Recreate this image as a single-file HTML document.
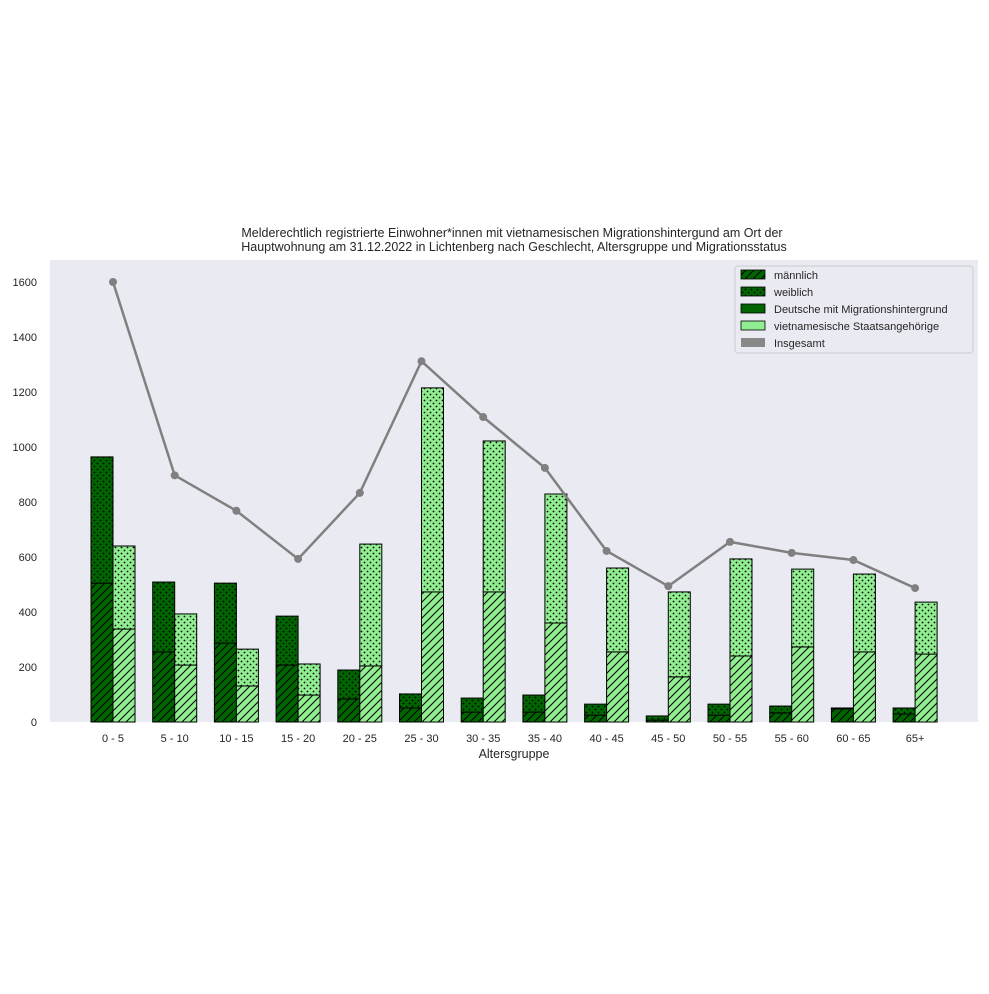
<!DOCTYPE html>
<html><head><meta charset="utf-8"><style>
body{margin:0;background:#fff;}
svg text{font-family:"Liberation Sans",sans-serif;fill:#262626;}
</style></head><body>
<svg id="chart" width="989" height="989" xmlns="http://www.w3.org/2000/svg">
<defs>
<pattern id="hd" patternUnits="userSpaceOnUse" width="8" height="8"><rect width="8" height="8" fill="#006400"/><path d="M-2,2 L2,-2 M0,8 L8,0 M6,10 L10,6" stroke="#000" stroke-width="1"/></pattern>
<pattern id="hl" patternUnits="userSpaceOnUse" width="8" height="8"><rect width="8" height="8" fill="#90ee90"/><path d="M-2,2 L2,-2 M0,8 L8,0 M6,10 L10,6" stroke="#000" stroke-width="1"/></pattern>
<pattern id="dd" patternUnits="userSpaceOnUse" width="6" height="6"><rect width="6" height="6" fill="#006400"/><circle cx="1.5" cy="1.5" r="0.9" fill="#000"/><circle cx="4.5" cy="4.5" r="0.9" fill="#000"/></pattern>
<pattern id="dl" patternUnits="userSpaceOnUse" width="6" height="6"><rect width="6" height="6" fill="#90ee90"/><circle cx="1.5" cy="1.5" r="0.9" fill="#000"/><circle cx="4.5" cy="4.5" r="0.9" fill="#000"/></pattern>
</defs>
<rect x="50" y="260" width="928" height="462" fill="#eaeaf2"/>
<text x="512" y="237" font-size="12.5" text-anchor="middle">Melderechtlich registrierte Einwohner*innen mit vietnamesischen Migrationshintergund am Ort der</text>
<text x="514" y="251" font-size="12.5" text-anchor="middle">Hauptwohnung am 31.12.2022 in Lichtenberg nach Geschlecht, Altersgruppe und Migrationsstatus</text>
<g id="marks"></g>
<g id="axes"></g>
<text x="514" y="758" font-size="12.5" text-anchor="middle">Altersgruppe</text>
<g>
<rect x="735" y="266" width="238" height="87" rx="3" fill="#eaeaf2" stroke="#cccccc" stroke-width="1"/>
<rect x="741" y="270" width="24" height="9" fill="url(#hd)" stroke="#000" stroke-width="0.8"/>
<text x="774" y="279" font-size="11">männlich</text>
<rect x="741" y="287" width="24" height="9" fill="url(#dd)" stroke="#000" stroke-width="0.8"/>
<text x="774" y="296" font-size="11">weiblich</text>
<rect x="741" y="304" width="24" height="9" fill="#006400" stroke="#000" stroke-width="0.8"/>
<text x="774" y="313" font-size="11">Deutsche mit Migrationshintergrund</text>
<rect x="741" y="321" width="24" height="9" fill="#90ee90" stroke="#000" stroke-width="0.8"/>
<text x="774" y="330" font-size="11">vietnamesische Staatsangehörige</text>
<rect x="741" y="338" width="24" height="9" fill="#888888"/>
<text x="774" y="347" font-size="11">Insgesamt</text>
</g>
</svg>
<script>
const categories = ["0 - 5","5 - 10","10 - 15","15 - 20","20 - 25","25 - 30","30 - 35","35 - 40","40 - 45","45 - 50","50 - 55","55 - 60","60 - 65","65+"];
const deMale = [505,255,287,207,84,51,36,36,25,7,25,33,48,29];
const deTotal = [964,509,505,385,189,102,87,98,65,22,65,58,51,51];
const viMale = [338,207,131,98,204,473,473,360,255,164,240,273,255,247];
const viTotal = [640,393,265,211,647,1215,1022,829,560,473,593,556,538,436];
const insgesamt = [1600,897,768,593,833,1312,1109,924,622,494,655,615,589,487];
const yTicks = [0,200,400,600,800,1000,1200,1400,1600];

const NS = "http://www.w3.org/2000/svg";
const y = v => 722 - v * 0.275;
const xc = i => 113 + i * 61.7;
const BW = 22;
const marks = document.getElementById('marks');
const axes = document.getElementById('axes');
function mk(tag, attrs, parent){const e=document.createElementNS(NS,tag);for(const k in attrs)e.setAttribute(k,attrs[k]);parent.appendChild(e);return e;}

yTicks.forEach(t=>{
  const tx = mk('text',{x:37,y:y(t)+4,'font-size':11,'text-anchor':'end'},axes);
  tx.textContent = t;
  
  
});
categories.forEach((c,i)=>{
  const tx = mk('text',{x:xc(i),y:742,'font-size':11,'text-anchor':'middle'},axes);
  tx.textContent = c;
  
  

  const x0 = xc(i) - BW, x1 = xc(i);
  let r;
  r = mk('rect',{x:x0,y:y(deMale[i]),width:BW,height:y(0)-y(deMale[i]),fill:'url(#hd)',stroke:'#000','stroke-width':1},marks);
  
  
  r = mk('rect',{x:x0,y:y(deTotal[i]),width:BW,height:y(deMale[i])-y(deTotal[i]),fill:'url(#dd)',stroke:'#000','stroke-width':1},marks);
  
  
  r = mk('rect',{x:x1,y:y(viMale[i]),width:BW,height:y(0)-y(viMale[i]),fill:'url(#hl)',stroke:'#000','stroke-width':1},marks);
  
  
  r = mk('rect',{x:x1,y:y(viTotal[i]),width:BW,height:y(viMale[i])-y(viTotal[i]),fill:'url(#dl)',stroke:'#000','stroke-width':1},marks);
  
  
});
const pts = insgesamt.map((v,i)=>xc(i)+','+y(v)).join(' ');
const pl = mk('polyline',{points:pts,fill:'none',stroke:'#808080','stroke-width':2.5},marks);


insgesamt.forEach((v,i)=>{
  const c = mk('circle',{cx:xc(i),cy:y(v),r:4,fill:'#808080'},marks);
  
  
});
</script>
</body></html>
